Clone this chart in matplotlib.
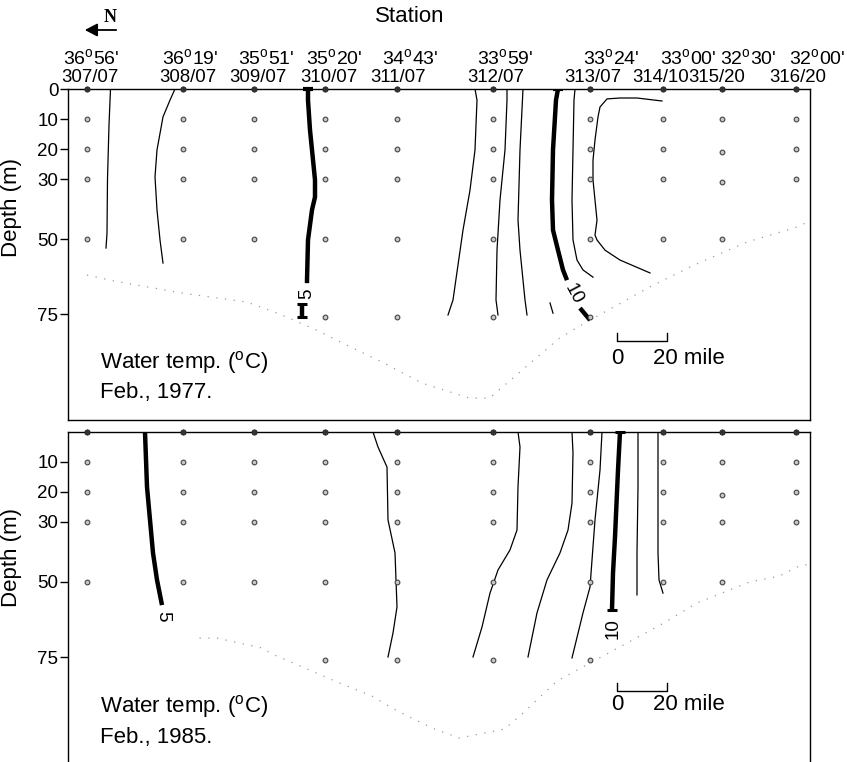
import matplotlib
matplotlib.use("Agg")
import matplotlib.pyplot as plt
from matplotlib import transforms as mtrans

plt.rcParams['font.family'] = ['Liberation Sans', 'DejaVu Sans']
plt.rcParams['mathtext.fontset'] = 'custom'
plt.rcParams['mathtext.rm'] = 'Liberation Sans'

W, H = 847, 762

# ---------------- data ----------------
# station distance along section (miles from station 307)
stations = ['307/07', '308/07', '309/07', '310/07', '311/07',
            '312/07', '313/07', '314/10', '315/20', '316/20']
latitudes = ["36$^{\\mathregular{o}}$56'", "36$^{\\mathregular{o}}$19'", "35$^{\\mathregular{o}}$51'",
             "35$^{\\mathregular{o}}$20'", "34$^{\\mathregular{o}}$43'", "33$^{\\mathregular{o}}$59'",
             "33$^{\\mathregular{o}}$24'", "33$^{\\mathregular{o}}$00'", "32$^{\\mathregular{o}}$30'",
             "32$^{\\mathregular{o}}$00'"]
station_dist = [0.0, 38.4, 66.8, 95.2, 124.0, 162.4, 201.2, 230.4, 254.0, 283.6]

# sampling depths (m) at each station
depths_1977 = [[0, 10, 20, 30, 50], [0, 10, 20, 30, 50], [0, 10, 20, 30, 50],
               [0, 10, 20, 30, 50, 76], [0, 10, 20, 30, 50, 76], [0, 10, 20, 30, 50, 76],
               [0, 10, 20, 30, 50, 76], [0, 10, 20, 30, 50], [0, 10, 21, 31, 50],
               [0, 10, 20, 30]]
depths_1985 = [[0, 10, 20, 30, 50], [0, 10, 20, 30, 50], [0, 10, 20, 30, 50],
               [0, 10, 20, 30, 50, 76], [0, 10, 20, 30, 50, 76], [0, 10, 20, 30, 50, 76],
               [0, 10, 20, 30, 50, 76], [0, 10, 20, 30, 50], [0, 10, 21, 30, 50],
               [0, 10, 20, 30]]

# sea-bottom profile (dotted)
bottom_1977_x = [0, 11, 38, 64, 77, 91, 103, 118, 134, 153, 161, 189, 197, 225, 242, 264, 284, 289]
bottom_1977_d = [62, 64, 68, 71, 75, 80, 85, 91, 98, 103, 103, 83, 79, 66, 59, 51, 46, 44]
bottom_1985_x = [45, 52, 70, 74, 102, 114, 122, 129, 139, 149, 167, 174, 188, 230, 244, 265, 277, 284, 289]
bottom_1985_d = [68.7, 68.7, 72, 74, 84, 88, 92, 95, 99, 102, 99, 94, 83, 64, 57, 50, 48, 45, 44]

# isotherms 1977: (distance, depth) thin lines
iso77_thin = [
    ([9.4, 8.8, 8.2, 8.0, 7.6], [0, 12, 30, 48, 53]),
    ([35.2, 33.2, 30.4, 28.0, 27.2, 28.0, 29.2, 30.4], [0, 3.7, 9.3, 20.3, 29.3, 40.3, 50.3, 58]),
    ([155.2, 156.0, 155.2, 153.2, 150.4, 146.4, 144.4], [0, 3.7, 20.3, 33.7, 47, 70.3, 75.3]),
    ([168.0, 168.0, 167.2, 165.2, 164.0, 163.6, 164.4], [0, 3.7, 20.3, 37, 53.7, 70.3, 75.3]),
    ([174.4, 173.2, 172.4, 173.2, 175.2, 176.0], [0, 20.3, 43.7, 53.7, 70.3, 75.3]),
    ([185.2, 186.4], [71.3, 74.7]),
    ([195.2, 194.8, 194.4, 194.0, 194.4, 196.0, 198.4, 202.4], [0, 3.7, 20.3, 37, 50.3, 57, 60.3, 62.7]),
    ([230.0, 220.0, 213.2, 208.0, 205.2, 204.4, 203.2, 202.4, 202.4, 203.2, 204.0, 203.2, 204.0, 207.2, 213.2, 225.2],
     [4, 3, 3, 3.3, 6, 9.3, 17, 23.7, 30.3, 37, 43.7, 48.7, 50.3, 53.7, 57, 61.3]),
]
# 5 degC and 10 degC isotherms (thick), with segment after label
iso77_5 = ([88.4, 88.4, 89.2, 90.0, 91.2, 91.2, 90.0, 88.4, 88.0, 88.0],
           [0, 3.7, 13.7, 20.3, 30.3, 36, 40.3, 50.3, 63.7, 64.7])
iso77_5b = ([86.0, 86.0], [71.5, 76.0])
iso77_10 = ([188.4, 187.6, 186.4, 186.0, 186.4, 188.4, 190.4, 192.0],
            [0, 3.7, 20.3, 37, 47, 53.7, 60.3, 63.7])
iso77_10b = ([197.2, 201.2], [73, 77])

# isotherms 1985
iso85_thin = [
    ([114.4, 116.4, 120.0, 120.4, 123.2, 124.0, 122.4, 120.4], [0, 5, 11.7, 29.3, 40.3, 58.3, 67, 75]),
    ([172.4, 173.2, 172.4, 172.0, 169.2, 164.4, 161.2, 158.0, 154.4], [0, 5, 18.3, 32.7, 39.3, 46, 53.7, 65, 75]),
    ([194.0, 194.4, 194.0, 192.4, 189.2, 184.0, 180.0, 176.4], [0, 7, 23.7, 32.7, 40.3, 49.3, 60.3, 75]),
    ([206.0, 205.2, 203.2, 202.0, 201.2, 198.4, 194.0], [0, 12.7, 29.3, 42.7, 51.7, 60.3, 75.3]),
    ([220.4, 220.4, 220.0, 220.0], [0, 18.3, 40.3, 54.3]),
    ([228.4, 228.4, 228.4, 228.8, 230.4], [0, 18.3, 40.3, 49.3, 53.7]),
]
iso85_5 = ([23.2, 24.0, 25.2, 26.4, 28.0, 30.0], [0, 18.3, 29.3, 40.3, 49.3, 57.7])
iso85_10 = ([213.2, 212.4, 211.2, 210.4, 210.0], [0, 12.7, 35, 47, 59.3])

yticks_1977 = [0, 10, 20, 30, 50, 75]
yticks_1985 = [10, 20, 30, 50, 75]

# ---------------- figure ----------------
fig = plt.figure(figsize=(W / 100, H / 100), dpi=100)

def fx(px):
    return px / W

def fy(py):
    return 1 - py / H

left, right = 68, 810
ax1 = fig.add_axes([fx(left), fy(420), fx(right) - fx(left), fy(89) - fy(420)])
ax2 = fig.add_axes([fx(left), 0.0, fx(right) - fx(left), fy(432)])

xmin, xmax = -7.6, 289.2
for ax in (ax1, ax2):
    ax.set_xlim(xmin, xmax)
    ax.set_xticks([])
    ax.tick_params(axis='y', direction='out', length=6, width=1, labelsize=13.5, pad=1)
    for s in ax.spines.values():
        s.set_linewidth(1.0)
ax1.set_ylim(110.3, 0)
ax2.set_ylim(110, 0)
ax1.set_yticks(yticks_1977)
ax2.set_yticks(yticks_1985)
ax2.spines['bottom'].set_visible(False)

ax1.set_ylabel('Depth (m)', fontsize=16)
ax2.set_ylabel('Depth (m)', fontsize=16)
ax1.yaxis.set_label_coords(-0.062, 0.643)
ax2.yaxis.set_label_coords(-0.062, 0.62)

thin = dict(color='black', lw=0.9)
thick = dict(color='black', lw=3.2, solid_capstyle='butt')

def draw_dots(ax, depths):
    for x, ds in zip(station_dist, depths):
        for d in ds:
            if d == 0:
                ax.plot(x, d, 'o', ms=3.8, mfc='#333333', mec='#222222', mew=0.6, clip_on=False, zorder=5)
            else:
                ax.plot(x, d, 'o', ms=3.4, mfc='#c8c8c8', mec='#444444', mew=0.8, zorder=5)

# --- 1977 panel ---
ax1.plot(bottom_1977_x, bottom_1977_d, color='#9a9a9a', lw=0.9, ls=(0, (1, 6)))
for xs, ds in iso77_thin:
    ax1.plot(xs, ds, **thin)
ax1.plot(*iso77_5, **thick)
ax1.plot(*iso77_5b, **thick)
ax1.plot(iso77_5b[0], iso77_5b[1], ls='none', marker='_', ms=7, mew=2.2, color='black')
ax1.plot(iso77_10[0][:1], iso77_10[1][:1], ls='none', marker='_', ms=7, mew=3, color='black')
ax1.plot(iso77_5[0][:1], iso77_5[1][:1], ls='none', marker='_', ms=7, mew=3, color='black', clip_on=False)
ax1.plot(*iso77_10, **thick)
ax1.plot(*iso77_10b, **thick)
ax1.text(88.0, 68.2, '5', rotation=90, fontsize=13.5, ha='center', va='center')
ax1.text(194.6, 68.3, '10', rotation=-62, fontsize=13.5, ha='center', va='center')
draw_dots(ax1, depths_1977)

# --- 1985 panel ---
ax2.plot(bottom_1985_x, bottom_1985_d, color='#9a9a9a', lw=0.9, ls=(0, (1, 6)))
for xs, ds in iso85_thin:
    ax2.plot(xs, ds, **thin)
ax2.plot(*iso85_5, **thick)
ax2.plot(*iso85_10, **thick)
ax2.plot([iso85_10[0][0], iso85_10[0][-1]], [iso85_10[1][0], iso85_10[1][-1]], ls='none',
         marker='_', ms=7, mew=2.2, color='black', clip_on=False)
ax2.text(30.2, 61.5, '5', rotation=-90, fontsize=13.5, ha='center', va='center')
ax2.text(210.4, 65.5, '10', rotation=90, fontsize=13.5, ha='center', va='center')
draw_dots(ax2, depths_1985)

# --- station labels ---
lat_label_x = [1.6, 41.2, 71.6, 98.8, 129.2, 167.2, 209.6, 240.4, 264.4, 292.0]
stn_label_x = [1.2, 40.4, 68.4, 96.8, 124.4, 163.6, 202.4, 229.6, 252.0, 284.4]
trans = mtrans.blended_transform_factory(ax1.transData, fig.transFigure)
for lx, lab in zip(lat_label_x, latitudes):
    fig.text(lx, fy(59), lab, transform=trans, fontsize=14, ha='center', va='center')
for sx, lab in zip(stn_label_x, stations):
    fig.text(sx, fy(78), lab, transform=trans, fontsize=13.4, ha='center', va='center')
fig.text(fx(410), fy(17), 'Station', fontsize=16, ha='center', va='center')

# north arrow
fig.text(fx(110), fy(17), 'N', fontsize=13, ha='center', va='center',
         family='Liberation Serif', weight='bold')
fig.patches.append(matplotlib.patches.FancyArrowPatch(
    (fx(119), fy(30)), (fx(82), fy(30)), transform=fig.transFigure,
    arrowstyle='-|>,head_length=5,head_width=2.6', color='black', lw=1.3, mutation_scale=1.5))

# annotations in panels
for ax, year, tw, tf, sb, st in ((ax1, '1977', 362, 392, 333, 358), (ax2, '1985', 707, 737, 683, 705)):
    fig.text(fx(100), fy(tw), 'Water temp. ($^{\\mathregular{o}}$C)', fontsize=16, ha='left', va='center')
    fig.text(fx(100), fy(tf), 'Feb., ' + year + '.', fontsize=16, ha='left', va='center')
    # scale bar 0-20 mile
    x0 = 212.0
    tr = mtrans.blended_transform_factory(ax.transData, fig.transFigure)
    ax.plot([x0, x0, x0 + 20, x0 + 20], [fy(sb), fy(sb + 8), fy(sb + 8), fy(sb)],
            transform=tr, color='black', lw=1.0, clip_on=False)
    fig.text(x0, fy(st), '0', transform=tr, fontsize=16, ha='center', va='center')
    fig.text(x0 + 14.4, fy(st), '20 mile', transform=tr, fontsize=16, ha='left', va='center')

fig.savefig('out.png', dpi=100)
